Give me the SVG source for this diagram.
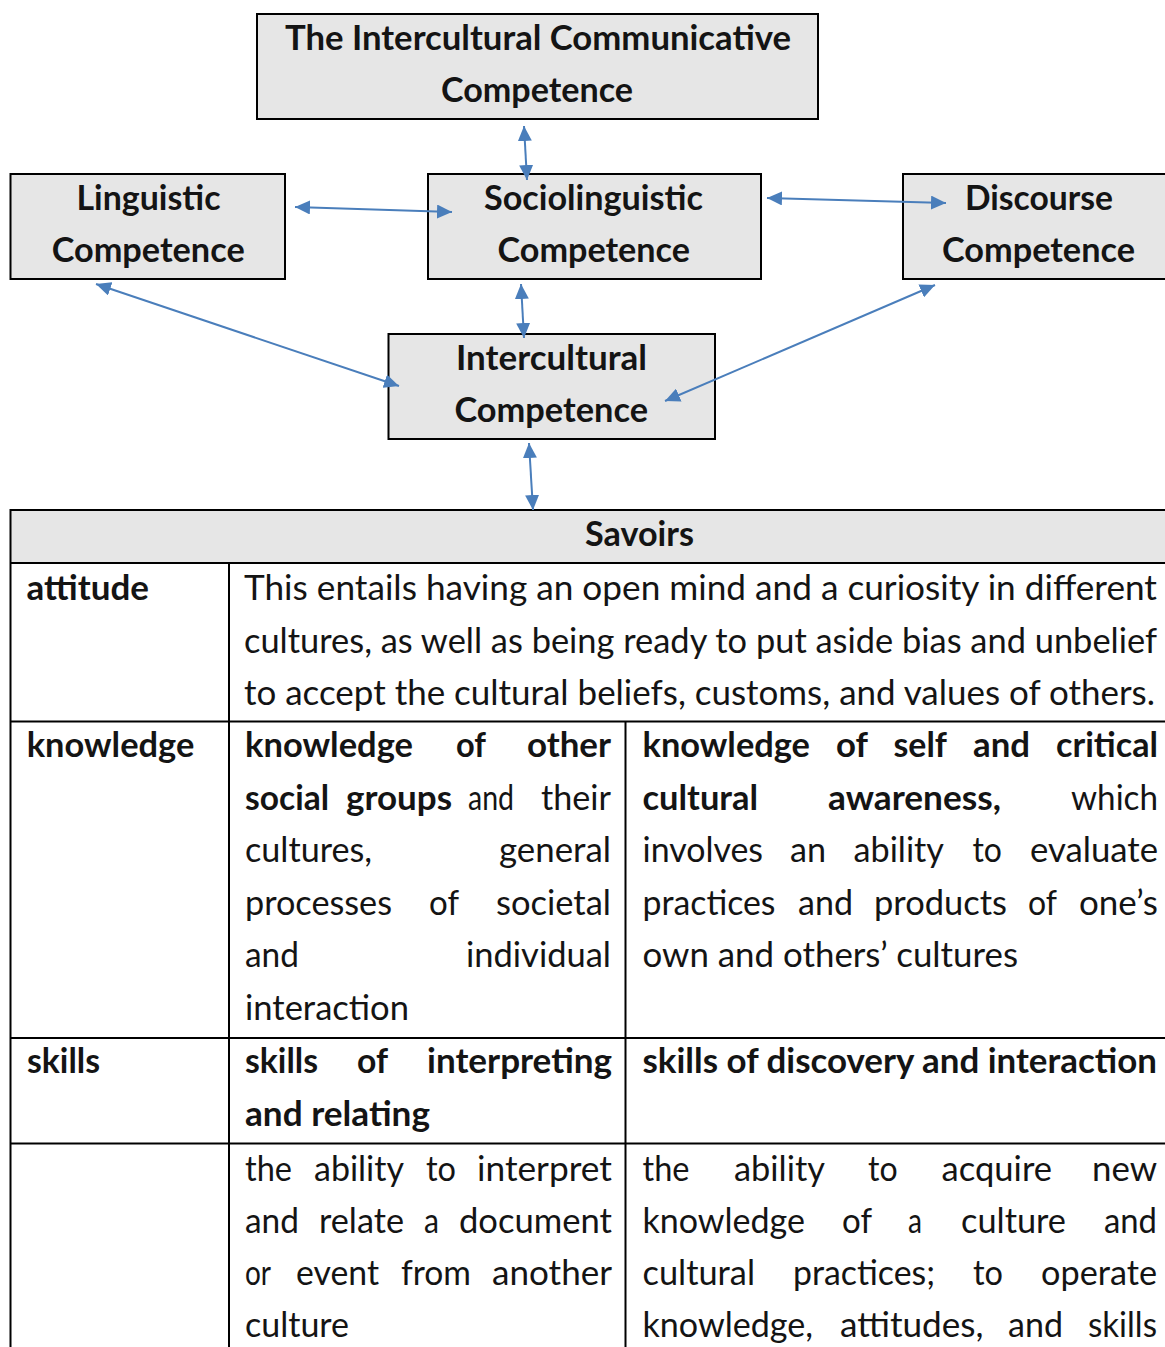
<svg xmlns="http://www.w3.org/2000/svg" width="1165" height="1347" viewBox="0 0 1165 1347">
<style>
  text { font-family: Lato, "Open Sans", "Liberation Sans", sans-serif; font-size: 34px; fill: #141414; }
  .b { font-weight: 700; }
  .r { font-weight: 400; }
  .box { fill: #E6E6E6; stroke: #000; stroke-width: 2; }
  .grid { stroke: #000; stroke-width: 2; fill: none; }
  .conn { stroke: #4A7EBB; stroke-width: 2; fill: none; marker-start: url(#ah); marker-end: url(#ah); }
</style>
<defs>
  <marker id="ah" markerUnits="userSpaceOnUse" markerWidth="15" markerHeight="14" refX="15" refY="7" orient="auto-start-reverse">
    <path d="M0,0 L15,7 L0,14 Z" fill="#4A7EBB"/>
  </marker>
</defs>
<rect width="1165" height="1347" fill="#fff"/>

<g id="node-icc">
  <rect class="box" x="257" y="14" width="561" height="105"/>
  <text class="b" x="285" y="50" textLength="506" lengthAdjust="spacingAndGlyphs">The Intercultural Communicative</text>
  <text class="b" x="441" y="102" textLength="192" lengthAdjust="spacingAndGlyphs">Competence</text>
</g>
<g id="node-linguistic">
  <rect class="box" x="10.5" y="174" width="274.5" height="105"/>
  <text class="b" x="76.5" y="210" textLength="144" lengthAdjust="spacingAndGlyphs">Linguistic</text>
  <text class="b" x="51.7" y="262" textLength="193" lengthAdjust="spacingAndGlyphs">Competence</text>
</g>
<g id="node-sociolinguistic">
  <rect class="box" x="428" y="174" width="333" height="105"/>
  <text class="b" x="484" y="210" textLength="219" lengthAdjust="spacingAndGlyphs">Sociolinguistic</text>
  <text class="b" x="497.5" y="262" textLength="192.5" lengthAdjust="spacingAndGlyphs">Competence</text>
</g>
<g id="node-discourse">
  <rect class="box" x="903" y="174" width="264" height="105"/>
  <text class="b" x="965" y="210" textLength="148" lengthAdjust="spacingAndGlyphs">Discourse</text>
  <text class="b" x="942" y="262" textLength="193" lengthAdjust="spacingAndGlyphs">Competence</text>
</g>
<g id="node-intercultural">
  <rect class="box" x="388.5" y="334" width="326.5" height="105"/>
  <text class="b" x="456" y="370" textLength="191" lengthAdjust="spacingAndGlyphs">Intercultural</text>
  <text class="b" x="454.5" y="422" textLength="193.5" lengthAdjust="spacingAndGlyphs">Competence</text>
</g>

<g id="node-savoirs-table">
  <rect x="10.5" y="510" width="1157" height="53" fill="#E6E6E6"/>
  <path class="grid" d="M10.5,510 H1168 M10.5,509 V1348 M10.5,563 H1168 M10.5,721.5 H1168 M10.5,1038 H1168 M10.5,1143.5 H1168 M229,563 V1348 M625.5,721.5 V1348"/>
  <text class="b" x="585" y="546" textLength="109" lengthAdjust="spacingAndGlyphs">Savoirs</text>

  <g id="row-attitude">
    <text class="b" x="26.5" y="600" textLength="122.5" lengthAdjust="spacingAndGlyphs">attitude</text>
    <text class="r" x="244" y="600" textLength="913" lengthAdjust="spacingAndGlyphs">This entails having an open mind and a curiosity in different</text>
    <text class="r" x="244" y="652.5" textLength="913" lengthAdjust="spacingAndGlyphs">cultures, as well as being ready to put aside bias and unbelief</text>
    <text class="r" x="244" y="705" textLength="911" lengthAdjust="spacingAndGlyphs">to accept the cultural beliefs, customs, and values of others.</text>
  </g>

  <g id="row-knowledge">
    <text class="b" x="26.7" y="757" textLength="167.6" lengthAdjust="spacingAndGlyphs">knowledge</text>
    <g id="cell-knowledge-other">
      <text class="b" x="245" y="757" textLength="168" lengthAdjust="spacingAndGlyphs">knowledge</text>
      <text class="b" x="456" y="757" textLength="30" lengthAdjust="spacingAndGlyphs">of</text>
      <text class="b" x="527" y="757" textLength="84" lengthAdjust="spacingAndGlyphs">other</text>
      <text class="b" x="245" y="809.5" textLength="84" lengthAdjust="spacingAndGlyphs">social</text>
      <text class="b" x="346" y="809.5" textLength="106" lengthAdjust="spacingAndGlyphs">groups</text>
      <text class="r" x="468" y="809.5" textLength="46" lengthAdjust="spacingAndGlyphs">and</text>
      <text class="r" x="541" y="809.5" textLength="70" lengthAdjust="spacingAndGlyphs">their</text>
      <text class="r" x="245" y="862" textLength="127" lengthAdjust="spacingAndGlyphs">cultures,</text>
      <text class="r" x="499" y="862" textLength="112" lengthAdjust="spacingAndGlyphs">general</text>
      <text class="r" x="245" y="914.5" textLength="147" lengthAdjust="spacingAndGlyphs">processes</text>
      <text class="r" x="429" y="914.5" textLength="30" lengthAdjust="spacingAndGlyphs">of</text>
      <text class="r" x="496" y="914.5" textLength="115" lengthAdjust="spacingAndGlyphs">societal</text>
      <text class="r" x="245" y="967" textLength="54" lengthAdjust="spacingAndGlyphs">and</text>
      <text class="r" x="466" y="967" textLength="145" lengthAdjust="spacingAndGlyphs">individual</text>
      <text class="r" x="245" y="1019.5" textLength="164" lengthAdjust="spacingAndGlyphs">interaction</text>
    </g>
    <g id="cell-knowledge-self">
      <text class="b" x="642.5" y="757" textLength="167.5" lengthAdjust="spacingAndGlyphs">knowledge</text>
      <text class="b" x="836" y="757" textLength="32" lengthAdjust="spacingAndGlyphs">of</text>
      <text class="b" x="893.5" y="757" textLength="53.5" lengthAdjust="spacingAndGlyphs">self</text>
      <text class="b" x="973" y="757" textLength="57" lengthAdjust="spacingAndGlyphs">and</text>
      <text class="b" x="1056" y="757" textLength="102" lengthAdjust="spacingAndGlyphs">critical</text>
      <text class="b" x="642.5" y="809.5" textLength="115.5" lengthAdjust="spacingAndGlyphs">cultural</text>
      <text class="b" x="828" y="809.5" textLength="173" lengthAdjust="spacingAndGlyphs">awareness,</text>
      <text class="r" x="1071" y="809.5" textLength="87" lengthAdjust="spacingAndGlyphs">which</text>
      <text class="r" x="642.5" y="862" textLength="120.5" lengthAdjust="spacingAndGlyphs">involves</text>
      <text class="r" x="790" y="862" textLength="36" lengthAdjust="spacingAndGlyphs">an</text>
      <text class="r" x="853.5" y="862" textLength="90.5" lengthAdjust="spacingAndGlyphs">ability</text>
      <text class="r" x="972.5" y="862" textLength="29.5" lengthAdjust="spacingAndGlyphs">to</text>
      <text class="r" x="1030" y="862" textLength="128" lengthAdjust="spacingAndGlyphs">evaluate</text>
      <text class="r" x="642.5" y="914.5" textLength="133" lengthAdjust="spacingAndGlyphs">practices</text>
      <text class="r" x="798" y="914.5" textLength="55" lengthAdjust="spacingAndGlyphs">and</text>
      <text class="r" x="874" y="914.5" textLength="133" lengthAdjust="spacingAndGlyphs">products</text>
      <text class="r" x="1028" y="914.5" textLength="29" lengthAdjust="spacingAndGlyphs">of</text>
      <text class="r" x="1079" y="914.5" textLength="79" lengthAdjust="spacingAndGlyphs">one’s</text>
      <text class="r" x="642.5" y="967" textLength="375.5" lengthAdjust="spacingAndGlyphs">own and others’ cultures</text>
    </g>
  </g>

  <g id="row-skills">
    <text class="b" x="27" y="1073" textLength="73" lengthAdjust="spacingAndGlyphs">skills</text>
    <text class="b" x="245" y="1073" textLength="73" lengthAdjust="spacingAndGlyphs">skills</text>
    <text class="b" x="357" y="1073" textLength="31" lengthAdjust="spacingAndGlyphs">of</text>
    <text class="b" x="427" y="1073" textLength="185" lengthAdjust="spacingAndGlyphs">interpreting</text>
    <text class="b" x="245" y="1126" textLength="185" lengthAdjust="spacingAndGlyphs">and relating</text>
    <text class="b" x="642.5" y="1073" textLength="514.5" lengthAdjust="spacingAndGlyphs">skills of discovery and interaction</text>
  </g>

  <g id="row-skills-desc">
    <text class="r" x="245" y="1180.5" textLength="47" lengthAdjust="spacingAndGlyphs">the</text>
    <text class="r" x="314" y="1180.5" textLength="90" lengthAdjust="spacingAndGlyphs">ability</text>
    <text class="r" x="426" y="1180.5" textLength="30" lengthAdjust="spacingAndGlyphs">to</text>
    <text class="r" x="477" y="1180.5" textLength="135" lengthAdjust="spacingAndGlyphs">interpret</text>
    <text class="r" x="245" y="1232.5" textLength="54" lengthAdjust="spacingAndGlyphs">and</text>
    <text class="r" x="319" y="1232.5" textLength="85" lengthAdjust="spacingAndGlyphs">relate</text>
    <text class="r" x="424" y="1232.5" textLength="15" lengthAdjust="spacingAndGlyphs">a</text>
    <text class="r" x="459" y="1232.5" textLength="153" lengthAdjust="spacingAndGlyphs">document</text>
    <text class="r" x="245" y="1284.5" textLength="26" lengthAdjust="spacingAndGlyphs">or</text>
    <text class="r" x="296" y="1284.5" textLength="83" lengthAdjust="spacingAndGlyphs">event</text>
    <text class="r" x="401" y="1284.5" textLength="70" lengthAdjust="spacingAndGlyphs">from</text>
    <text class="r" x="492" y="1284.5" textLength="120" lengthAdjust="spacingAndGlyphs">another</text>
    <text class="r" x="245" y="1336.5" textLength="104" lengthAdjust="spacingAndGlyphs">culture</text>

    <text class="r" x="642.5" y="1180.5" textLength="47" lengthAdjust="spacingAndGlyphs">the</text>
    <text class="r" x="734" y="1180.5" textLength="91" lengthAdjust="spacingAndGlyphs">ability</text>
    <text class="r" x="868" y="1180.5" textLength="29.6" lengthAdjust="spacingAndGlyphs">to</text>
    <text class="r" x="941.6" y="1180.5" textLength="110.4" lengthAdjust="spacingAndGlyphs">acquire</text>
    <text class="r" x="1092" y="1180.5" textLength="65" lengthAdjust="spacingAndGlyphs">new</text>
    <text class="r" x="642.5" y="1232.5" textLength="162.5" lengthAdjust="spacingAndGlyphs">knowledge</text>
    <text class="r" x="842" y="1232.5" textLength="30" lengthAdjust="spacingAndGlyphs">of</text>
    <text class="r" x="908" y="1232.5" textLength="14" lengthAdjust="spacingAndGlyphs">a</text>
    <text class="r" x="961" y="1232.5" textLength="105" lengthAdjust="spacingAndGlyphs">culture</text>
    <text class="r" x="1104" y="1232.5" textLength="53" lengthAdjust="spacingAndGlyphs">and</text>
    <text class="r" x="642.5" y="1284.5" textLength="112.5" lengthAdjust="spacingAndGlyphs">cultural</text>
    <text class="r" x="793" y="1284.5" textLength="142" lengthAdjust="spacingAndGlyphs">practices;</text>
    <text class="r" x="973" y="1284.5" textLength="30" lengthAdjust="spacingAndGlyphs">to</text>
    <text class="r" x="1041" y="1284.5" textLength="116" lengthAdjust="spacingAndGlyphs">operate</text>
    <text class="r" x="642.5" y="1336.5" textLength="170.5" lengthAdjust="spacingAndGlyphs">knowledge,</text>
    <text class="r" x="840" y="1336.5" textLength="143.5" lengthAdjust="spacingAndGlyphs">attitudes,</text>
    <text class="r" x="1008" y="1336.5" textLength="55" lengthAdjust="spacingAndGlyphs">and</text>
    <text class="r" x="1088" y="1336.5" textLength="69" lengthAdjust="spacingAndGlyphs">skills</text>
  </g>
</g>

<g id="connectors">
  <line class="conn" x1="524" y1="126" x2="527" y2="180"/>
  <line class="conn" x1="295" y1="207" x2="452" y2="212"/>
  <line class="conn" x1="767" y1="198" x2="946" y2="203"/>
  <line class="conn" x1="521" y1="284" x2="524" y2="338"/>
  <line class="conn" x1="96" y1="284" x2="399" y2="386"/>
  <line class="conn" x1="935" y1="285" x2="665" y2="401"/>
  <line class="conn" x1="529" y1="443" x2="533" y2="510"/>
</g>
</svg>
